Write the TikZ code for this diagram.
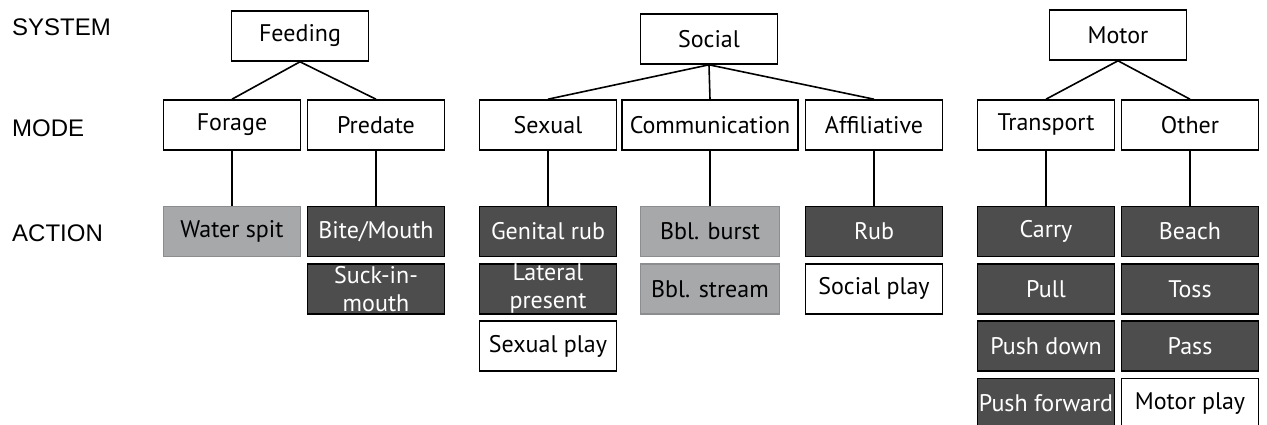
\documentclass[tikz,border=0pt]{standalone}
\usepackage{fontspec}
\setmainfont{PT Sans}
\newfontfamily\levelfont{Liberation Sans}
\usepackage{xcolor}
\definecolor{darkgrey}{RGB}{77,77,77}
\definecolor{midgrey}{RGB}{167,168,170}
\definecolor{midborder}{RGB}{140,141,143}
\usepackage{tikz}
\usetikzlibrary{positioning}

\tikzset{
  box/.style={draw=black, line width=1.6pt, fill=white, inner sep=0pt, minimum width=137pt,
    minimum height=50pt, align=center, font=\fontsize{24}{28}\selectfont},
  darkbox/.style={box, fill=darkgrey, text=white},
  greybox/.style={box, fill=midgrey, draw=midborder},
  level/.style={anchor=west, inner sep=0pt, font=\levelfont\fontsize{24}{26}\selectfont},
  link/.style={line width=1.6pt}
}

\begin{document}
\begin{tikzpicture}[x=1pt, y=-1pt]
  \useasboundingbox (0,0) rectangle (1267,425);
  % Row labels
  \node[level] (system) at (12,27) {SYSTEM};
  \node[level] (mode) at (12,128) {MODE};
  \node[level] (action) at (12,233) {ACTION};

  % Systems
  \node[box] (feeding) at (300,36) {Feeding};
  \node[box] (social) at (709,39) {Social};
  \node[box] (motor) at (1118,35) {Motor};

  % Modes
  \node[box] (forage) at (232,125) {Forage};
  \node[box] (predate) at (376,125) {Predate};
  \node[box] (sexual) at (548,125) {Sexual};
  \node[box, minimum width=176pt] (communication) at (710,125) {Communication};
  \node[box] (affiliative) at (874,125) {Affiliative};
  \node[box] (transport) at (1046,125) {Transport};
  \node[box] (other) at (1190,125) {Other};

  % Actions
  \node[greybox] (waterspit) at (232,231.5) {Water spit};
  \node[darkbox] (bite) at (376,231.5) {Bite/Mouth};
  \node[darkbox, below=5.7pt of bite] (suck) {Suck-in-\\mouth};
  \node[darkbox] (genital) at (548,231.5) {Genital rub};
  \node[darkbox, below=5.7pt of genital] (lateral) {Lateral\\present};
  \node[box, below=5.7pt of lateral] (sexplay) {Sexual play};
  \node[greybox, minimum width=139pt] (burst) at (710,231.5) {Bbl. burst};
  \node[greybox, minimum width=139pt, below=5.7pt of burst] (stream) {Bbl. stream};
  \node[darkbox] (rub) at (874,231.5) {Rub};
  \node[box, below=5.7pt of rub] (socplay) {Social play};
  \node[darkbox] (carry) at (1046,231.5) {Carry};
  \node[darkbox, below=5.7pt of carry] (pull) {Pull};
  \node[darkbox, below=5.7pt of pull] (pushdown) {Push down};
  \node[darkbox, below=5.7pt of pushdown] (pushforward) {Push forward};
  \node[darkbox] (beach) at (1190,231.5) {Beach};
  \node[darkbox, below=5.7pt of beach] (toss) {Toss};
  \node[darkbox, below=5.7pt of toss] (pass) {Pass};
  \node[box, below=5.7pt of pass] (motorplay) {Motor play};

  % System to mode
  \draw[link] (feeding.south) -- (forage.north);
  \draw[link] (feeding.south) -- (predate.north);
  \draw[link] (social.south) -- (sexual.north);
  \draw[link] (social.south) -- (communication.north);
  \draw[link] (social.south) -- (affiliative.north);
  \draw[link] (motor.south) -- (transport.north);
  \draw[link] (motor.south) -- (other.north);

  % Mode to action
  \draw[link] (forage.south) -- (waterspit.north);
  \draw[link] (predate.south) -- (bite.north);
  \draw[link] (sexual.south) -- (genital.north);
  \draw[link] (communication.south) -- (burst.north);
  \draw[link] (affiliative.south) -- (rub.north);
  \draw[link] (transport.south) -- (carry.north);
  \draw[link] (other.south) -- (beach.north);
\end{tikzpicture}
\end{document}
